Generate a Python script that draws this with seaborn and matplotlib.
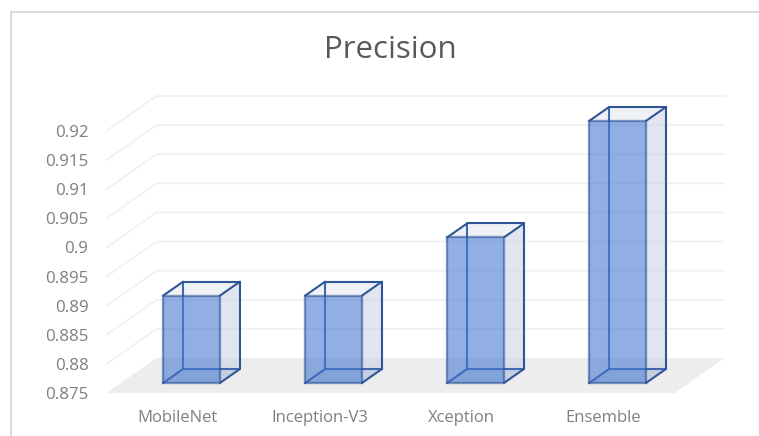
import matplotlib
matplotlib.use("Agg")
import matplotlib.pyplot as plt
import seaborn as sns
import pandas as pd
from matplotlib.lines import Line2D
from matplotlib.transforms import Affine2D

models = ["MobileNet", "Inception-V3", "Xception", "Ensemble"]
precision = [0.89, 0.89, 0.90, 0.92]
y_ticks = [0.875, 0.88, 0.885, 0.89, 0.895, 0.90, 0.905, 0.91, 0.915, 0.92]
y_labels = ["0.875", "0.88", "0.885", "0.89", "0.895", "0.9", "0.905", "0.91", "0.915", "0.92"]

W, H = 759, 436
sns.set_theme(style="white")
plt.rcParams["font.family"] = ["Open Sans", "DejaVu Sans"]
fig = plt.figure(figsize=(W / 100, H / 100), dpi=100, facecolor="white")
# axes = front plane of the 3D box
L, R, T, B = 106.5, 674.5, 131, 393
ax = fig.add_axes([L / W, 1 - B / H, (R - L) / W, (B - T) / H], zorder=5)
ax.patch.set_alpha(0)

df = pd.DataFrame({"model": models, "precision": precision})
sns.barplot(data=df, x="model", y="precision", order=models, width=0.4,
            color="#4A7AD2", saturation=1, alpha=0.6, edgecolor="#2F5597",
            linewidth=1.7, ax=ax, zorder=6)
ax.set_xlim(-0.5, 3.5)
ax.set_ylim(0.875, 0.92)


def shift(dx, dy):
    # pixel offset (dy up) from the front plane to a given depth
    return ax.transData + Affine2D().translate(dx, dy)


# floor and walls
x0, x1 = ax.get_xlim()
base = y_ticks[0]
WALL_DX, WALL_DY = 50, 35
t_wall = shift(WALL_DX, WALL_DY)
floor_pts = [ax.transData.transform(p) for p in [(x0, base), (x1, base)]]
floor_pts += [t_wall.transform(p) for p in [(x1, base), (x0, base)]]
fig.add_artist(plt.Polygon(floor_pts, closed=True, transform=None, fc="#EDEDED", ec="none", zorder=0))
for v in y_ticks[1:]:
    a = ax.transData.transform((x0, v))
    b = t_wall.transform((x0, v))
    c = t_wall.transform((x1, v))
    fig.add_artist(Line2D([a[0], b[0], c[0]], [a[1], b[1], c[1]], transform=None,
                          color="#F0F0F0", lw=1.2, zorder=0))

# bars: depth of front face and box
F_DX, F_DY = 14, 10
BOX_DX, BOX_DY = 20, 14
EDGE = "#2F5597"
front_t = shift(F_DX, F_DY)
back_t = shift(F_DX + BOX_DX, F_DY + BOX_DY)

for patch in ax.patches:
    top = patch.get_height()
    patch.set_y(base)
    patch.set_height(top - base)
    patch.set_transform(shift(F_DX, F_DY))
    patch.set_clip_on(False)

for i, v in enumerate(precision):
    hw = 0.2
    xl, xr = i - hw, i + hw
    front = lambda x, y: front_t.transform((x, y))
    back = lambda x, y: back_t.transform((x, y))
    # side, top, bottom faces
    faces = [
        ([front(xr, base), back(xr, base), back(xr, v), front(xr, v)], "#C9D1E3", 0.55),
        ([front(xl, v), front(xr, v), back(xr, v), back(xl, v)], "#DDE2EE", 0.45),
        ([front(xl, base), front(xr, base), back(xr, base), back(xl, base)], "#4472C4", 0.12),
    ]
    for pts, col, al in faces:
        fig.add_artist(plt.Polygon(pts, closed=True, transform=None, fc=col, alpha=al, ec="none", zorder=1))
    # box edges behind and beside the front face
    segs = [
        (back(xl, base), back(xl, v), "#3F68B0"),
        (back(xl, base), back(xr, base), "#3F68B0"),
        (back(xr, base), back(xr, v), EDGE),
        (back(xl, v), back(xr, v), EDGE),
        (front(xl, v), back(xl, v), EDGE),
        (front(xr, v), back(xr, v), EDGE),
        (front(xl, base), back(xl, base), EDGE),
        (front(xr, base), back(xr, base), EDGE),
    ]
    for p, q, col in segs:
        fig.add_artist(Line2D([p[0], q[0]], [p[1], q[1]], transform=None, color=col, lw=1.5, zorder=2))

sns.despine(ax=ax, left=True, bottom=True, right=True, top=True)
ax.set_xlabel("")
ax.set_ylabel("")
ax.set_yticks(y_ticks, y_labels)
ax.tick_params(axis="y", length=0, pad=13, labelsize=12.2, labelcolor="#7F7F7F")
ax.tick_params(axis="x", length=0, pad=12, labelsize=12, labelcolor="#7F7F7F")
ax.set_xticks(range(len(models)), models)
ax.grid(False)

fig.text(390 / W, 1 - 50 / H, "Precision", ha="center", va="center",
         fontsize=22.5, color="#595959")

# chart frame
fig.add_artist(Line2D([10.5 / W, 10.5 / W, 1], [0, 1 - 12 / H, 1 - 12 / H],
                      color="#D9D9D9", lw=1.4, zorder=0))

fig.savefig("out.png", dpi=100, facecolor="white")
